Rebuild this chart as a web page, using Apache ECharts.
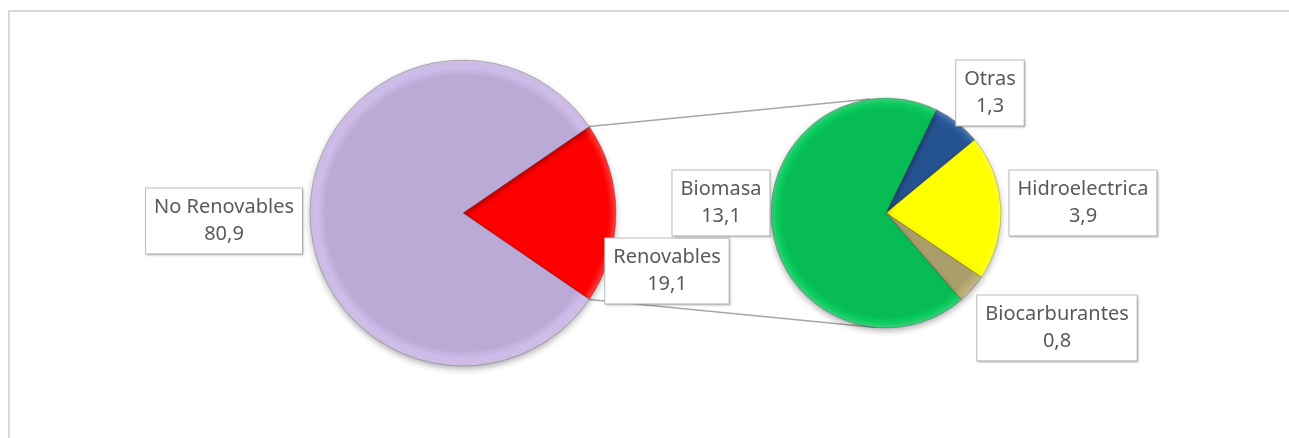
<!DOCTYPE html>
<html>
<head>
<meta charset="utf-8">
<script src="https://cdn.jsdelivr.net/npm/echarts@6/dist/echarts.min.js"></script>
<style>
  html, body { margin: 0; padding: 0; background: #fff; }
  .pie2 { width: 1289px; height: 438px; }
</style>
</head>
<body>
<div class="pie2"></div>
<script>
// datos
var mainNames = ['Renovables', 'No Renovables'];
var mainValues = [19.1, 80.9];
var subNames = ['Otras', 'Hidroelectrica', 'Biocarburantes', 'Biomasa'];
var subValues = [1.3, 3.9, 0.8, 13.1];

// colores
var mainColors = ['#ff0000', '#bcaad6'];
var subColors = ['#255290', '#ffff00', '#aa9e6a', '#07bb55'];

// posicion de las etiquetas (centro de la caja)
var mainLabelPos = [[667, 271], [224, 221]];
var subLabelPos = [[990, 93], [1083, 203], [1057, 328], [721, 203]];

(function() {
  // 1. geometria de las dos tartas
  var c1 = [463, 213], r1 = 153;
  var c2 = [886, 213], r2 = 115;
  var total = mainValues[0] + mainValues[1];
  var halfAngle = mainValues[0] / total * 180;

  function fmt(p) {
    return p.name + '\n' + String(p.value).replace('.', ',');
  }

  // gradiente radial para imitar el bisel de excel
  function bevel(color, c, r) {
    var light = echarts.color.lift(color, -0.1);
    var dark = echarts.color.lift(color, 0.25);
    return new echarts.graphic.RadialGradient(c[0], c[1], r, [
      { offset: 0, color: color },
      { offset: 0.9, color: color },
      { offset: 0.95, color: light },
      { offset: 1, color: dark }
    ], true);
  }

  function toData(names, values, colors, c, r) {
    return names.map(function(n, i) {
      return {
        name: n,
        value: values[i],
        itemStyle: { color: bevel(colors[i], c, r) }
      };
    });
  }

  var labelStyle = {
    show: true,
    formatter: fmt,
    fontFamily: 'Noto Sans',
    fontSize: 20,
    lineHeight: 27,
    color: '#595959',
    backgroundColor: '#fff',
    borderColor: '#bfbfbf',
    borderWidth: 1,
    padding: [6, 8, 5, 8],
    align: 'center',
    shadowColor: 'rgba(0,0,0,0.15)',
    shadowBlur: 2,
    shadowOffsetX: 1,
    shadowOffsetY: 1
  };

  var itemBase = {
    borderColor: 'rgba(0,0,0,0.2)',
    borderWidth: 1,
    shadowColor: 'rgba(0,0,0,0.3)',
    shadowBlur: 6,
    shadowOffsetY: 3
  };

  // lineas que unen la tarta principal con la secundaria
  function pt(c, r, deg) {
    var a = deg * Math.PI / 180;
    return [c[0] + r * Math.cos(a), c[1] - r * Math.sin(a)];
  }
  var a1 = pt(c1, r1, halfAngle), b1 = pt(c2, r2, 98);
  var a2 = pt(c1, r1, -halfAngle), b2 = pt(c2, r2, -95);

  var myChart = echarts.init(document.querySelector('.pie2'));
  var option = {
    animation: false,
    graphic: [
      {
        type: 'rect',
        shape: { x: 9, y: 11, width: 1400, height: 500 },
        style: { fill: 'none', stroke: '#d9d9d9', lineWidth: 2 },
        z: 0
      },
      {
        type: 'line',
        shape: { x1: a1[0], y1: a1[1], x2: b1[0], y2: b1[1] },
        style: { stroke: '#a6a6a6', lineWidth: 1.5 },
        z: 1
      },
      {
        type: 'line',
        shape: { x1: a2[0], y1: a2[1], x2: b2[0], y2: b2[1] },
        style: { stroke: '#a6a6a6', lineWidth: 1.5 },
        z: 1
      }
    ],
    series: [
      {
        type: 'pie',
        center: c1,
        radius: r1,
        startAngle: halfAngle,
        clockwise: true,
        silent: true,
        itemStyle: itemBase,
        label: labelStyle,
        labelLine: { show: false },
        labelLayout: function(p) {
          var q = mainLabelPos[p.dataIndex];
          return { x: q[0], y: q[1], align: 'center', verticalAlign: 'middle' };
        },
        data: toData(mainNames, mainValues, mainColors, c1, r1)
      },
      {
        type: 'pie',
        center: c2,
        radius: r2,
        startAngle: 64,
        clockwise: true,
        silent: true,
        itemStyle: itemBase,
        label: labelStyle,
        labelLine: { show: false },
        labelLayout: function(p) {
          var q = subLabelPos[p.dataIndex];
          return { x: q[0], y: q[1], align: 'center', verticalAlign: 'middle' };
        },
        data: toData(subNames, subValues, subColors, c2, r2)
      }
    ]
  };
  myChart.setOption(option);
  window.addEventListener('resize', function() {
    myChart.resize();
  });
})();
</script>
</body>
</html>
